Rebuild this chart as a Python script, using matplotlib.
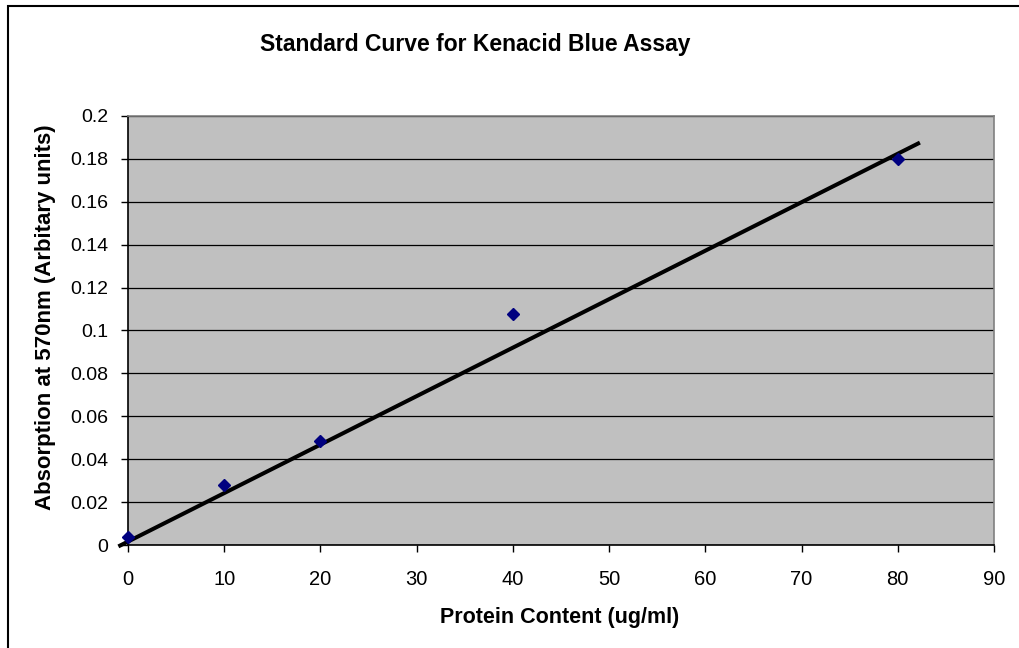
import matplotlib.pyplot as plt
import matplotlib.patches as patches
import numpy as np

plt.rcParams['font.family'] = ['Liberation Sans', 'DejaVu Sans']

# Standard curve readings
protein = [0, 10, 20, 40, 80]
absorbance = [0.0037, 0.028, 0.0485, 0.1075, 0.1798]

# Linear trendline as shown on the chart (forecast slightly either side)
trend_slope = 0.00226
trend_intercept = 0.0016
trend_range = [-1.0, 82.3]

x_ticks = [0, 10, 20, 30, 40, 50, 60, 70, 80, 90]
y_ticks = [0, 0.02, 0.04, 0.06, 0.08, 0.1, 0.12, 0.14, 0.16, 0.18, 0.2]

W, H = 1019, 648
fig = plt.figure(figsize=(W / 100, H / 100), dpi=100)

# outer chart border (only top/left visible in the crop)
fig.patches.append(patches.Rectangle((8 / W, -0.1), 1.2, (H - 6) / H + 0.1,
                                     transform=fig.transFigure, fill=False,
                                     edgecolor='black', linewidth=1.5))

ax = fig.add_axes([128 / W, (H - 545) / H, (994 - 128) / W, (545 - 116) / H])
ax.set_facecolor('#C0C0C0')

ax.set_xlim(0, 90)
ax.set_ylim(0, 0.2)
ax.set_xticks(x_ticks)
ax.set_yticks(y_ticks)
ax.set_xticklabels([f'{v:g}' for v in x_ticks], fontsize=14.5)
ax.set_yticklabels([f'{v:g}' for v in y_ticks], fontsize=14)
ax.tick_params(axis='both', direction='out', length=5, width=1, color='black')
ax.tick_params(axis='x', pad=13)
ax.tick_params(axis='y', pad=9)

ax.yaxis.grid(True, color='black', linewidth=0.9)
ax.set_axisbelow(True)

for side in ['left', 'bottom']:
    ax.spines[side].set_color('black')
    ax.spines[side].set_linewidth(1.2)
for side in ['top', 'right']:
    ax.spines[side].set_color('#808080')
    ax.spines[side].set_linewidth(1.2)

tx = np.array(trend_range)
ax.plot(tx, trend_slope * tx + trend_intercept, color='black', linewidth=2.9,
        clip_on=False, zorder=3, solid_capstyle='butt')
ax.plot(protein, absorbance, linestyle='none', marker='D', markersize=6,
        color='#000080', clip_on=False, zorder=4)

fig.text(475 / W, 1 - 45 / H, 'Standard Curve for Kenacid Blue Assay',
         ha='center', va='center', fontsize=16.5, fontweight='bold')
fig.text(560 / W, 1 - 617 / H, 'Protein Content (ug/ml)',
         ha='center', va='center', fontsize=15.5, fontweight='bold')
fig.text(46 / W, 1 - 317 / H, 'Absorption at 570nm (Arbitary units)',
         ha='center', va='center', rotation=90, fontsize=16, fontweight='bold')

fig.savefig('out.png', dpi=100)
